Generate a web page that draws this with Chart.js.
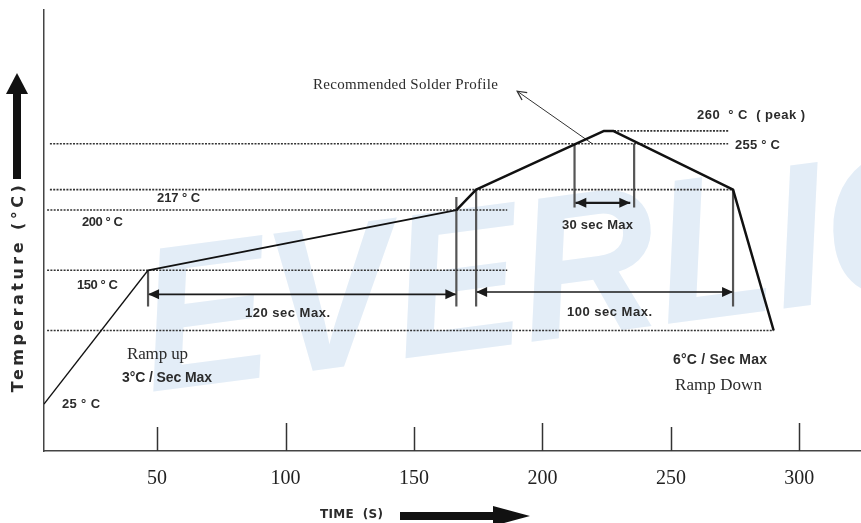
<!DOCTYPE html>
<html>
<head>
<meta charset="utf-8">
<title>Recommended Solder Profile</title>
<script src="https://cdn.jsdelivr.net/npm/chart.js@4.4.1/dist/chart.umd.min.js"></script>
<style>
  html, body { margin: 0; padding: 0; background: #ffffff; }
  #c { display: block; }
</style>
</head>
<body>
<canvas id="c" width="861" height="523"></canvas>
<script>
// Reflow profile: time (s) against temperature (°C)
const profileTime = [6, 46.5, 166.5, 174.2, 224, 227.5, 274.2, 290];
const profileTemp = [25, 150, 200, 217, 260, 260, 217, 100];

// Dotted reference levels and the time span each one covers
const levelTemp = [260, 255, 217, 200, 150, 100];
const levelFrom = [224, 8.3, 8.3, 7.2, 7.2, 7.2];
const levelTo   = [272.3, 272.3, 274.2, 186.3, 186.3, 290];

// Time axis tick values
const timeTicks = [50, 100, 150, 200, 250, 300];

// Timing windows
const soakStart = 46.5, soakSeconds = 120;     // 150 °C -> 200 °C
const liquidStart = 174.2, liquidSeconds = 100; // above 217 °C
const peakWindow = [212.5, 235.7];              // above 255 °C
const peakArrow = [212.8, 234.2];

// Leader from the curve up to the caption
const leaderTime = [219.4, 190.2];
const leaderTemp = [255, 293];

// The temperature axis is drawn schematically: the band below 100 °C and
// the peak above 255 °C are stretched, everything between is linear.
const axisBreaks = { real: [0, 25, 100, 255, 260, 400], drawn: [14, 39, 100, 255, 265.6, 405.6] };

function interp(v, from, to) {
  for (let i = 0; i < from.length - 1; i++) {
    if (v <= from[i + 1] || i === from.length - 2) {
      const t = (v - from[i]) / (from[i + 1] - from[i]);
      return to[i] + t * (to[i + 1] - to[i]);
    }
  }
  return v;
}

class SchematicScale extends Chart.LinearScale {
  getPixelForValue(value) {
    return super.getPixelForValue(interp(value, axisBreaks.real, axisBreaks.drawn));
  }
  getValueForPixel(pixel) {
    return interp(super.getValueForPixel(pixel), axisBreaks.drawn, axisBreaks.real);
  }
}
SchematicScale.id = 'schematic';
SchematicScale.defaults = Chart.LinearScale.defaults;
Chart.register(SchematicScale);

const pts = (xs, ys) => xs.map((x, i) => ({ x, y: ys[i] }));

const datasets = [];

// main profile curve
datasets.push({
  data: pts(profileTime, profileTemp),
  borderColor: '#111',
  borderWidth: 2.4,
  pointRadius: 0,
  borderJoinStyle: 'round',
  segment: {
    borderWidth: ctx => ctx.p0DataIndex === 0 ? 1.3 : (ctx.p0DataIndex === 1 ? 1.8 : 2.5)
  }
});

// dotted levels
levelTemp.forEach((t, i) => {
  datasets.push({
    data: pts([levelFrom[i], levelTo[i]], [t, t]),
    borderColor: '#333',
    borderWidth: 1.7,
    borderDash: [2, 1.3],
    pointRadius: 0
  });
});

// vertical window markers
const soakEnd = soakStart + soakSeconds;
const liquidEnd = liquidStart + liquidSeconds;
const markers = [
  [soakStart, 150, 120],
  [soakEnd, 210.8, 120],
  [liquidStart, 217, 120],
  [liquidEnd, 217, 120],
  [peakWindow[0], 255, 202],
  [peakWindow[1], 255, 202]
];
markers.forEach(m => {
  datasets.push({
    data: pts([m[0], m[0]], [m[1], m[2]]),
    borderColor: '#555',
    borderWidth: 2.2,
    pointRadius: 0
  });
});

// dimension arrows
[
  [soakStart, soakEnd, 130],
  [liquidStart, liquidEnd, 132],
  [peakArrow[0], peakArrow[1], 206]
].forEach(a => {
  datasets.push({
    data: pts([a[0], a[1]], [a[2], a[2]]),
    borderColor: '#1a1a1a',
    borderWidth: a[2] > 200 ? 2.2 : 1.6,
    pointRadius: 0,
    heads: 'both'
  });
});

// leader to the caption
datasets.push({
  data: pts(leaderTime, leaderTemp),
  borderColor: '#333',
  borderWidth: 1,
  pointRadius: 0,
  heads: 'open'
});

function fitText(ctx, str, x, y, font, width, align) {
  ctx.save();
  ctx.font = font;
  ctx.letterSpacing = '0px';
  const w = ctx.measureText(str).width;
  if (width) {
    const sp = (width - w) / Math.max(1, str.length - 1);
    ctx.letterSpacing = sp.toFixed(2) + 'px';
  }
  ctx.textAlign = align || 'left';
  ctx.textBaseline = 'middle';
  ctx.fillText(str, x, y);
  ctx.restore();
}

const SANS = '"Liberation Sans", Arial, sans-serif';
const WIDE = '"DejaVu Sans", Verdana, sans-serif';
const SERIF = '"Liberation Serif", "Times New Roman", serif';

const decor = {
  id: 'decor',
  beforeDatasetsDraw(chart) {
    const ctx = chart.ctx;
    // faint company watermark
    ctx.save();
    ctx.beginPath();
    ctx.rect(chart.chartArea.left, 0, chart.width, chart.chartArea.bottom);
    ctx.clip();
    ctx.translate(150, 392);
    ctx.rotate(-7.5 * Math.PI / 180);
    ctx.scale(0.93, 1);
    ctx.font = 'italic bold 205px ' + SANS;
    ctx.fillStyle = 'rgb(227,237,247)';
    ctx.textBaseline = 'alphabetic';
    ctx.fillText('EVERLIGHT', 0, 0);
    ctx.restore();
  },
  afterDatasetsDraw(chart) {
    const ctx = chart.ctx;
    const xs = chart.scales.x;
    const area = chart.chartArea;

    // arrowheads
    chart.data.datasets.forEach((ds, i) => {
      if (!ds.heads) return;
      const el = chart.getDatasetMeta(i).data;
      const p0 = el[0], p1 = el[el.length - 1];
      ctx.save();
      ctx.fillStyle = ds.borderColor;
      ctx.strokeStyle = ds.borderColor;
      const head = (tip, from, len, half, open) => {
        const a = Math.atan2(tip.y - from.y, tip.x - from.x);
        const bx = tip.x - len * Math.cos(a), by = tip.y - len * Math.sin(a);
        const nx = -Math.sin(a) * half, ny = Math.cos(a) * half;
        ctx.beginPath();
        ctx.moveTo(bx + nx, by + ny);
        ctx.lineTo(tip.x, tip.y);
        ctx.lineTo(bx - nx, by - ny);
        if (open) { ctx.lineWidth = 1.3; ctx.stroke(); }
        else { ctx.closePath(); ctx.fill(); }
      };
      if (ds.heads === 'both') {
        head(p0, p1, 11, 5, false);
        head(p1, p0, 11, 5, false);
      } else {
        head(p1, p0, 9, 4.5, true);
      }
      ctx.restore();
    });

    // tick marks standing up from the time axis
    ctx.save();
    ctx.strokeStyle = '#333';
    ctx.lineWidth = 1.5;
    timeTicks.forEach((v, i) => {
      const px = Math.round(xs.getPixelForValue(v)) + 0.5;
      ctx.beginPath();
      ctx.moveTo(px, area.bottom);
      ctx.lineTo(px, area.bottom - (i % 2 ? 28 : 24));
      ctx.stroke();
    });
    ctx.restore();

    // labels
    ctx.save();
    ctx.fillStyle = '#2b2b2b';
    const B13 = 'bold 13px ' + SANS;
    fitText(ctx, 'Recommended Solder Profile', 313, 85, '15px ' + SERIF, 185);
    fitText(ctx, '260  ° C  ( peak )', 697, 115, B13, 108);
    fitText(ctx, '255 ° C', 735, 145, B13, 45);
    fitText(ctx, '217 ° C', 157, 198, B13, 43);
    fitText(ctx, '200 ° C', 82, 222, B13, 41);
    fitText(ctx, '150 ° C', 77, 285, B13, 41);
    fitText(ctx, '25 ° C', 62, 404, B13, 38);
    fitText(ctx, '30 sec Max', 562, 225, B13, 71);
    fitText(ctx, '120 sec Max.', 245, 313, B13, 85);
    fitText(ctx, '100 sec Max.', 567, 312, B13, 85);
    fitText(ctx, 'Ramp up', 127, 355, '17px ' + SERIF, 61);
    fitText(ctx, '3°C / Sec Max', 122, 378, 'bold 14px ' + SANS, 90);
    fitText(ctx, '6°C / Sec Max', 673, 360, 'bold 14px ' + SANS, 94);
    fitText(ctx, 'Ramp Down', 675, 386, '17px ' + SERIF, 87);
    fitText(ctx, 'TIME  (S)', 320, 515, 'bold 12px ' + WIDE, 63);

    // axis title, vertical
    ctx.save();
    ctx.translate(19, 287);
    ctx.rotate(-Math.PI / 2);
    fitText(ctx, 'Temperature (°C)', 0, 0, 'bold 16px ' + WIDE, 207, 'center');
    ctx.restore();
    ctx.restore();

    // direction arrows beside the axis titles
    ctx.save();
    ctx.fillStyle = '#111';
    ctx.fillRect(13, 92, 8, 87);
    ctx.beginPath();
    ctx.moveTo(17, 73); ctx.lineTo(28, 94); ctx.lineTo(6, 94); ctx.closePath(); ctx.fill();
    ctx.fillRect(400, 512, 96, 8);
    ctx.beginPath();
    ctx.moveTo(530, 516); ctx.lineTo(493, 506); ctx.lineTo(493, 526); ctx.closePath(); ctx.fill();
    ctx.restore();
  }
};

new Chart(document.getElementById('c'), {
  type: 'line',
  data: { datasets },
  options: {
    responsive: false,
    animation: false,
    devicePixelRatio: 1,
    layout: { padding: { top: 10, right: 0, left: 0, bottom: 0 } },
    plugins: { legend: { display: false }, tooltip: { enabled: false } },
    elements: { line: { tension: 0 } },
    scales: {
      x: {
        type: 'linear',
        min: 6,
        max: 324,
        afterBuildTicks: s => { s.ticks = timeTicks.map(v => ({ value: v })); },
        afterFit: s => { s.height = 72; },
        grid: { drawOnChartArea: false, drawTicks: false },
        border: { color: '#444', width: 1.5 },
        ticks: {
          autoSkip: false,
          maxRotation: 0,
          padding: 16,
          color: '#222',
          font: { family: '"Liberation Serif", "Times New Roman", serif', size: 20 }
        }
      },
      y: {
        type: 'schematic',
        min: 0,
        max: 366,
        afterFit: s => { s.width = 44; },
        grid: { drawOnChartArea: false, drawTicks: false },
        border: { color: '#444', width: 1.5 },
        ticks: { display: false }
      }
    }
  },
  plugins: [decor]
});
</script>
</body>
</html>
